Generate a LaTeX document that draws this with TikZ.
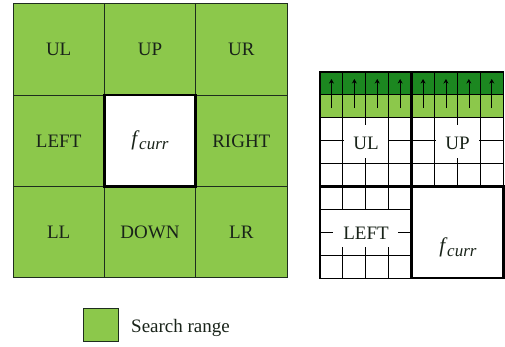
\documentclass[tikz,border=0pt]{standalone}
\usepackage{fontspec}
\setmainfont{Liberation Serif}
\usetikzlibrary{arrows.meta}

\definecolor{rangegreen}{RGB}{140,200,75}
\definecolor{deepgreen}{RGB}{28,135,32}
\definecolor{gridline}{RGB}{30,45,30}
\definecolor{labelink}{RGB}{25,35,25}

% current frame label: italic f with an italic "curr" subscript
\newcommand\fcurrlabel{{\fontsize{21}{21}\selectfont\textit{f}}\kern-0.5pt\raisebox{-4pt}{\fontsize{17}{17}\selectfont\itshape curr}}

\begin{document}
\begin{tikzpicture}[x=1pt,y=-1pt,
  lbl/.style={font=\fontsize{19}{19}\selectfont, text=labelink, inner sep=0pt},
  cell/.style={draw=gridline, line width=1pt, fill=rangegreen,
    minimum width=91.33pt, minimum height=91.33pt, inner sep=0pt,
    font=\fontsize{19}{19}\selectfont, text=labelink},
  curcell/.style={cell, draw=black, line width=2.6pt, fill=white},
  thin grid/.style={draw=black, line width=1.1pt},
  thick grid/.style={draw=black, line width=2.6pt},
  uparrow/.style={-{Stealth[length=4.5pt,width=5pt]}, line width=0.7pt, black}]
\useasboundingbox (0,0) rectangle (505,346);

% ---- 3x3 search neighbourhood ----
\node[cell] (ul)    at (58.67,49.5)   {UL};
\node[cell] (up)    at (150,49.5)     {UP};
\node[cell] (ur)    at (241.33,49.5)  {UR};
\node[cell] (left)  at (58.67,140.8)  {LEFT};
\node[cell] (right) at (241.33,140.8) {RIGHT};
\node[cell] (ll)    at (58.67,232.1)  {LL};
\node[cell] (down)  at (150,232.1)    {DOWN};
\node[cell] (lr)    at (241.33,232.1) {LR};
\node[curcell] (cur) at (150,140.8) {\fcurrlabel};

% ---- block-level view ----
% green rows above the blocks
\fill[deepgreen]  (320,72)   rectangle (503.2,94.9);
\fill[rangegreen] (320,94.9) rectangle (503.2,117.8);
\fill[white]      (320,117.8) rectangle (503.2,278.1);

% full-height column lines (left half)
\foreach \k in {1,2,3}
  \draw[thin grid] (320+\k*22.9,72) -- (320+\k*22.9,278.1);
% column lines of the right half stop at the current block
\foreach \k in {5,6,7}
  \draw[thin grid] (320+\k*22.9,72) -- (320+\k*22.9,186.5);
% row lines across the top blocks
\foreach \r in {1,2,3,4}
  \draw[thin grid] (320,72+\r*22.9) -- (503.2,72+\r*22.9);
% row lines of the lower-left block only
\foreach \r in {6,7,8}
  \draw[thin grid] (320,72+\r*22.9) -- (411.6,72+\r*22.9);

% upward arrows in each column
\foreach \k in {0,...,7}
  \draw[uparrow] (331.45+\k*22.9,108) -- (331.45+\k*22.9,79);

% block borders
\draw[thin grid] (320,72) rectangle (503.2,278.1);
\draw[thick grid] (411.6,72) -- (411.6,278.1);
\draw[thick grid] (320,186.5) -- (503.2,186.5);

% block labels on white patches
\fill[white] (344,125) rectangle (388,158);
\node[lbl] (ulb) at (366,143) {UL};
\fill[white] (436,125) rectangle (479,158);
\node[lbl] (upb) at (457.5,143) {UP};
\fill[white] (333,210) rectangle (398,247);
\node[lbl] (leftb) at (366,233) {LEFT};

% current block
\node[curcell, minimum width=91.6pt, minimum height=91.6pt] (curb) at (457.4,232.3) {};
\node[lbl] (curblbl) at (458,247.5) {\fcurrlabel};

% ---- legend ----
\node[draw=gridline, line width=1pt, fill=rangegreen, minimum width=35pt,
  minimum height=33pt, inner sep=0pt] (key) at (100.5,324.5) {};
\node[lbl, anchor=base west] (keytext) at (131,332) {Search range};
\end{tikzpicture}
\end{document}
